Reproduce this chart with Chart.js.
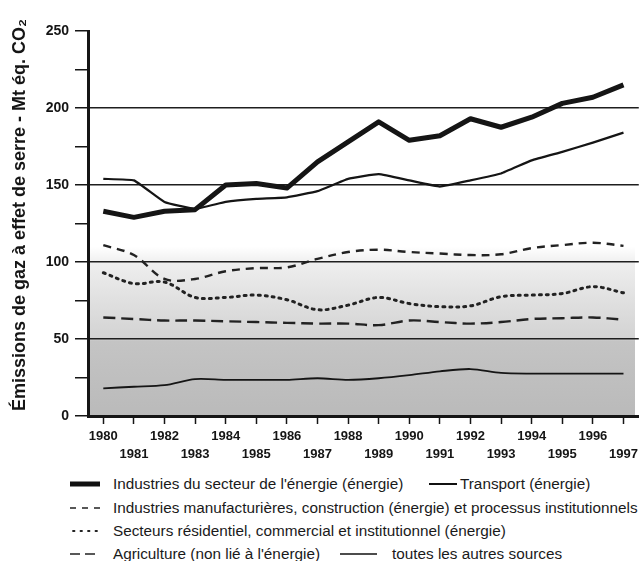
<!DOCTYPE html>
<html>
<head>
<meta charset="utf-8">
<script src="https://cdn.jsdelivr.net/npm/chart.js@4.4.1/dist/chart.umd.min.js"></script>
<style>
  body { margin: 0; background: #fff; width: 641px; height: 561px; overflow: hidden; position: relative; font-family: "Liberation Sans", Arial, sans-serif; }
  #wrap { position: absolute; left: 0; top: 0; width: 641px; height: 470px; }
  .leg { position: absolute; font-size: 15.3px; color: #1a1a1a; white-space: nowrap; line-height: 18px; }
  svg.s { position: absolute; overflow: visible; }
</style>
</head>
<body>
<div id="wrap"><canvas id="ges"></canvas></div>

<svg class="s" style="left:70px;top:484px" width="30" height="1"><line x1="0" y1="0" x2="30" y2="0" stroke="#111" stroke-width="5"/></svg>
<div class="leg" style="left:113px;top:475px">Industries du secteur de l'énergie (énergie)</div>
<svg class="s" style="left:429px;top:484px" width="28" height="1"><line x1="0" y1="0" x2="28" y2="0" stroke="#111" stroke-width="2"/></svg>
<div class="leg" style="left:460px;top:475px">Transport (énergie)</div>

<svg class="s" style="left:70px;top:508px" width="30" height="1"><line x1="0" y1="0" x2="30" y2="0" stroke="#222" stroke-width="1.6" stroke-dasharray="6 6"/></svg>
<div class="leg" style="left:113px;top:499px">Industries manufacturières, construction (énergie) et processus institutionnels</div>

<svg class="s" style="left:72px;top:531px" width="26" height="1"><line x1="1" y1="0" x2="26" y2="0" stroke="#222" stroke-width="1.8" stroke-dasharray="1.5 6" stroke-linecap="round"/></svg>
<div class="leg" style="left:113px;top:522px">Secteurs résidentiel, commercial et institutionnel (énergie)</div>

<svg class="s" style="left:70px;top:554px" width="30" height="1"><line x1="0" y1="0" x2="30" y2="0" stroke="#222" stroke-width="1.6" stroke-dasharray="10 5"/></svg>
<div class="leg" style="left:113px;top:545px">Agriculture (non lié à l'énergie)</div>
<svg class="s" style="left:340px;top:554px" width="37" height="1"><line x1="0" y1="0" x2="37" y2="0" stroke="#111" stroke-width="1.6"/></svg>
<div class="leg" style="left:392px;top:545px">toutes les autres sources</div>

<script>
const years = ['1980', '1981', '1982', '1983', '1984', '1985', '1986', '1987', '1988',
  '1989', '1990', '1991', '1992', '1993', '1994', '1995', '1996', '1997'];

// Mt éq. CO2
const energie = [133, 129, 133, 134, 150, 151, 148, 165, 178, 191, 179, 182, 193, 187.5, 194, 203, 207, 215];
const transport = [154, 153, 139, 134.5, 139, 141, 142, 146, 154, 157, 153, 149, 153, 157.5, 166, 171.5, 177.5, 184];
const manufacturieres = [111, 104.5, 89, 89, 94, 96, 96.5, 102, 106.5, 108, 106.5, 105.5, 104.5, 105, 109, 111, 112.5, 110.5];
const residentiel = [93, 86, 87, 77, 77, 78.5, 75.5, 69, 72, 77, 73, 71, 71.5, 77.5, 78.5, 79.5, 84, 80];
const agriculture = [64, 63, 62, 62, 61.5, 61, 60.5, 60, 60, 59, 62, 61, 60, 61, 63, 63.5, 64, 62.5];
const autres = [18, 19, 20, 24, 23.5, 23.5, 23.5, 24.5, 23.5, 24.5, 26.5, 29, 30.5, 28, 27.5, 27.5, 27.5, 27.5];

const ink = '#151515';
const titreY = 'Émissions de gaz à effet de serre - Mt éq. CO₂';

// fond grisé (trame) sous les courbes
const trame = {
  id: 'trame',
  beforeDraw(chart) {
    const { ctx, chartArea, scales } = chart;
    const y = scales.y;
    const bas = y.getPixelForValue(0), haut = y.getPixelForValue(110);
    const g = ctx.createLinearGradient(0, bas, 0, haut);
    g.addColorStop(0, '#bababa');
    g.addColorStop(0.44, '#c4c4c4');
    g.addColorStop(0.46, '#d3d3d3');
    g.addColorStop(0.68, '#e0e0e0');
    g.addColorStop(0.9, '#eeeeee');
    g.addColorStop(1, '#ffffff');
    ctx.save();
    ctx.fillStyle = g;
    ctx.fillRect(chartArea.left, haut, 635 - chartArea.left, bas - haut);
    ctx.restore();
  }
};

// titre de l'axe vertical
const titre = {
  id: 'titre',
  afterDraw(chart) {
    const ctx = chart.ctx;
    ctx.save();
    ctx.translate(20, 215);
    ctx.rotate(-Math.PI / 2);
    ctx.font = 'bold 18px "Liberation Sans"';
    ctx.fillStyle = ink;
    ctx.textAlign = 'center';
    ctx.textBaseline = 'middle';
    ctx.fillText(titreY, 0, 0);
    ctx.restore();
  }
};

new Chart(document.getElementById('ges'), {
  type: 'line',
  data: {
    labels: years,
    datasets: [
      { label: "Industries du secteur de l'énergie (énergie)", data: energie, borderColor: ink, borderWidth: 5, tension: 0, borderJoinStyle: 'round' },
      { label: 'Transport (énergie)', data: transport, borderColor: ink, borderWidth: 2.2, tension: 0.1 },
      { label: 'Industries manufacturières, construction (énergie) et processus institutionnels', data: manufacturieres, borderColor: '#222', borderWidth: 2.4, borderDash: [8, 6], tension: 0.35 },
      { label: 'Secteurs résidentiel, commercial et institutionnel (énergie)', data: residentiel, borderColor: '#222', borderWidth: 3, borderDash: [2, 5], borderCapStyle: 'round', tension: 0.35 },
      { label: "Agriculture (non lié à l'énergie)", data: agriculture, borderColor: '#222', borderWidth: 2.4, borderDash: [12, 6], tension: 0.35 },
      { label: 'toutes les autres sources', data: autres, borderColor: ink, borderWidth: 1.8, tension: 0.3 }
    ]
  },
  plugins: [trame, titre],
  options: {
    responsive: true,
    maintainAspectRatio: false,
    animation: false,
    layout: { padding: { top: 31, right: 2, left: 0, bottom: 0 } },
    elements: { point: { radius: 0 } },
    plugins: { legend: { display: false }, tooltip: { enabled: false } },
    scales: {
      x: {
        offset: true,
        border: { color: ink, width: 3 },
        grid: { drawOnChartArea: false, offset: false, tickColor: ink, tickLength: 8, tickWidth: 1.5 },
        ticks: {
          autoSkip: false, maxRotation: 0, padding: 3, color: ink,
          font: { family: 'Liberation Sans', weight: 'bold', size: 13, lineHeight: 1.4 },
          callback: (v, i) => i % 2 === 0 ? [years[i], ''] : ['', years[i]]
        },
        afterFit: s => { s.height = 54; }
      },
      y: {
        min: 0, max: 250,
        border: { color: ink, width: 3 },
        grid: {
          color: c => (c.tick && c.tick.value % 50 === 0 && c.tick.value > 0 && c.tick.value < 250) ? '#1e1e1e' : 'rgba(0,0,0,0)',
          lineWidth: 1.5, tickColor: ink, tickLength: 13, tickWidth: 1.5
        },
        ticks: {
          stepSize: 25, padding: 6, color: ink,
          font: { family: 'Liberation Sans', weight: 'bold', size: 14 },
          callback: v => v % 50 === 0 ? v : ''
        },
        afterFit: s => { s.width = 88; }
      }
    }
  }
});
</script>
</body>
</html>
